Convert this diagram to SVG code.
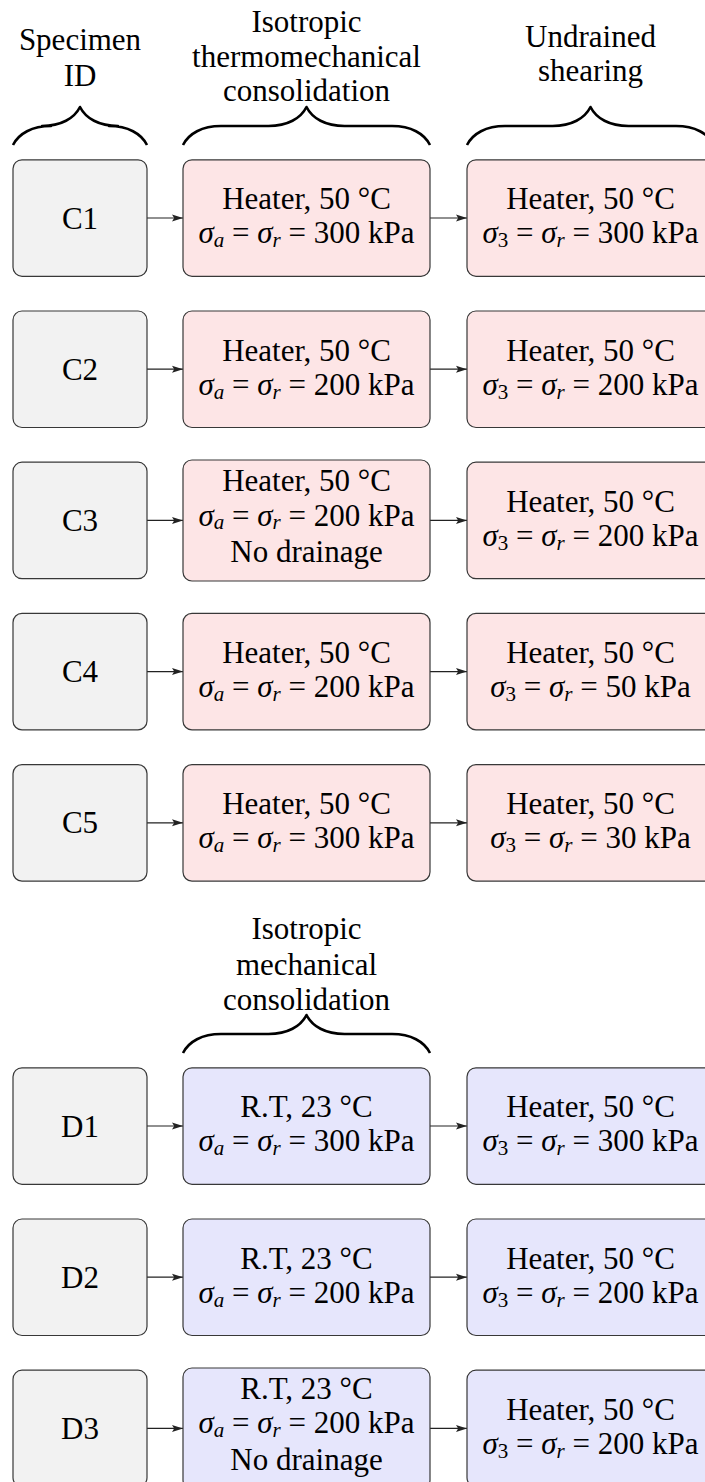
<svg xmlns="http://www.w3.org/2000/svg" width="705" height="1482" viewBox="0 0 705 1482">
<style>
text{font-family:"Liberation Serif","DejaVu Serif",serif;font-size:31px;fill:#000;text-anchor:middle}
.i{font-style:italic}
.sub{font-size:21px}
.box{stroke:#383838;stroke-width:1.2}
.id{fill:#f2f2f2}
.red{fill:#fde5e6}
.blue{fill:#e6e6fc}
.brace{fill:none;stroke:#000;stroke-width:2.6;stroke-linejoin:round;stroke-linecap:butt}
.arr{stroke:#222;stroke-width:1.2;fill:none;marker-end:url(#ah)}
</style>
<defs>
<marker id="ah" markerUnits="userSpaceOnUse" markerWidth="11" markerHeight="9" viewBox="0 0 11 9" refX="11" refY="4.5" orient="auto">
<path d="M0,1 L11,4.5 L0,8 L2.2,4.5 Z" fill="#222"/>
</marker>
</defs>

<g id="headers">
<text x="80" y="50">Specimen</text>
<text x="80" y="86">ID</text>
<text x="306.5" y="32">Isotropic</text>
<text x="306.5" y="67">thermomechanical</text>
<text x="306.5" y="101">consolidation</text>
<text x="590.5" y="47">Undrained</text>
<text x="590.5" y="81">shearing</text>
<text x="306.5" y="939">Isotropic</text>
<text x="306.5" y="974.5">mechanical</text>
<text x="306.5" y="1010">consolidation</text>
</g>

<g id="braces">
<path class="brace" d="M13,145 C18.7,133.6 32,126 51,126 L42,126 C61,126 74.3,118.4 80,107 C85.7,118.4 99,126 118,126 L109,126 C128,126 141.3,133.6 147,145"/>
<path class="brace" d="M183,145 C188.7,133.6 202,126 221,126 L268.5,126 C287.5,126 300.8,118.4 306.5,107 C312.2,118.4 325.5,126 344.5,126 L392,126 C411,126 424.3,133.6 430,145"/>
<path class="brace" d="M467,145 C472.7,133.6 486,126 505,126 L552.5,126 C571.5,126 584.8,118.4 590.5,107 C596.2,118.4 609.5,126 628.5,126 L676,126 C695,126 708.3,133.6 714,145"/>
<path class="brace" d="M183,1053 C188.7,1041.6 202,1034 221,1034 L268.5,1034 C287.5,1034 300.8,1026.4 306.5,1015 C312.2,1026.4 325.5,1034 344.5,1034 L392,1034 C411,1034 424.3,1041.6 430,1053"/>
</g>

<g id="connectors">
<line class="arr" x1="147" y1="218" x2="183" y2="218"/>
<line class="arr" x1="430" y1="218" x2="467" y2="218"/>
<line class="arr" x1="147" y1="369.2" x2="183" y2="369.2"/>
<line class="arr" x1="430" y1="369.2" x2="467" y2="369.2"/>
<line class="arr" x1="147" y1="520.4" x2="183" y2="520.4"/>
<line class="arr" x1="430" y1="520.4" x2="467" y2="520.4"/>
<line class="arr" x1="147" y1="671.6" x2="183" y2="671.6"/>
<line class="arr" x1="430" y1="671.6" x2="467" y2="671.6"/>
<line class="arr" x1="147" y1="822.8" x2="183" y2="822.8"/>
<line class="arr" x1="430" y1="822.8" x2="467" y2="822.8"/>
<line class="arr" x1="147" y1="1126" x2="183" y2="1126"/>
<line class="arr" x1="430" y1="1126" x2="467" y2="1126"/>
<line class="arr" x1="147" y1="1277.2" x2="183" y2="1277.2"/>
<line class="arr" x1="430" y1="1277.2" x2="467" y2="1277.2"/>
<line class="arr" x1="147" y1="1428.4" x2="183" y2="1428.4"/>
<line class="arr" x1="430" y1="1428.4" x2="467" y2="1428.4"/>
</g>

<g id="C1">
<rect class="box id" x="13" y="159.8" width="134" height="116.5" rx="9"/>
<text x="80" y="228.5">C1</text>
</g>
<g id="C1-cons">
<rect class="box red" x="183" y="159.8" width="247" height="116.5" rx="9"/>
<text x="306.5" y="209.3">Heater, 50 °C</text>
<text x="306.5" y="243.3"><tspan class="i">σ</tspan><tspan class="i sub" dy="4">a</tspan><tspan dy="-4"> = </tspan><tspan class="i">σ</tspan><tspan class="i sub" dy="4">r</tspan><tspan dy="-4"> = 300 kPa</tspan></text>
</g>
<g id="C1-shear">
<rect class="box red" x="467" y="159.8" width="247" height="116.5" rx="9"/>
<text x="590.5" y="209.3">Heater, 50 °C</text>
<text x="590.5" y="243.3"><tspan class="i">σ</tspan><tspan class="sub" dy="4">3</tspan><tspan dy="-4"> = </tspan><tspan class="i">σ</tspan><tspan class="i sub" dy="4">r</tspan><tspan dy="-4"> = 300 kPa</tspan></text>
</g>

<g id="C2">
<rect class="box id" x="13" y="311" width="134" height="116.5" rx="9"/>
<text x="80" y="379.7">C2</text>
</g>
<g id="C2-cons">
<rect class="box red" x="183" y="311" width="247" height="116.5" rx="9"/>
<text x="306.5" y="360.5">Heater, 50 °C</text>
<text x="306.5" y="394.5"><tspan class="i">σ</tspan><tspan class="i sub" dy="4">a</tspan><tspan dy="-4"> = </tspan><tspan class="i">σ</tspan><tspan class="i sub" dy="4">r</tspan><tspan dy="-4"> = 200 kPa</tspan></text>
</g>
<g id="C2-shear">
<rect class="box red" x="467" y="311" width="247" height="116.5" rx="9"/>
<text x="590.5" y="360.5">Heater, 50 °C</text>
<text x="590.5" y="394.5"><tspan class="i">σ</tspan><tspan class="sub" dy="4">3</tspan><tspan dy="-4"> = </tspan><tspan class="i">σ</tspan><tspan class="i sub" dy="4">r</tspan><tspan dy="-4"> = 200 kPa</tspan></text>
</g>

<g id="C3">
<rect class="box id" x="13" y="462.2" width="134" height="116.5" rx="9"/>
<text x="80" y="530.9">C3</text>
</g>
<g id="C3-cons">
<rect class="box red" x="183" y="460" width="247" height="121" rx="9"/>
<text x="306.5" y="491.2">Heater, 50 °C</text>
<text x="306.5" y="525.6"><tspan class="i">σ</tspan><tspan class="i sub" dy="3.5">a</tspan><tspan dy="-3.5"> = </tspan><tspan class="i">σ</tspan><tspan class="i sub" dy="3.5">r</tspan><tspan dy="-3.5"> = 200 kPa</tspan></text>
<text x="306.5" y="562">No drainage</text>
</g>
<g id="C3-shear">
<rect class="box red" x="467" y="462.2" width="247" height="116.5" rx="9"/>
<text x="590.5" y="511.7">Heater, 50 °C</text>
<text x="590.5" y="545.7"><tspan class="i">σ</tspan><tspan class="sub" dy="4">3</tspan><tspan dy="-4"> = </tspan><tspan class="i">σ</tspan><tspan class="i sub" dy="4">r</tspan><tspan dy="-4"> = 200 kPa</tspan></text>
</g>

<g id="C4">
<rect class="box id" x="13" y="613.4" width="134" height="116.5" rx="9"/>
<text x="80" y="682.1">C4</text>
</g>
<g id="C4-cons">
<rect class="box red" x="183" y="613.4" width="247" height="116.5" rx="9"/>
<text x="306.5" y="662.9">Heater, 50 °C</text>
<text x="306.5" y="696.9"><tspan class="i">σ</tspan><tspan class="i sub" dy="4">a</tspan><tspan dy="-4"> = </tspan><tspan class="i">σ</tspan><tspan class="i sub" dy="4">r</tspan><tspan dy="-4"> = 200 kPa</tspan></text>
</g>
<g id="C4-shear">
<rect class="box red" x="467" y="613.4" width="247" height="116.5" rx="9"/>
<text x="590.5" y="662.9">Heater, 50 °C</text>
<text x="590.5" y="696.9"><tspan class="i">σ</tspan><tspan class="sub" dy="4">3</tspan><tspan dy="-4"> = </tspan><tspan class="i">σ</tspan><tspan class="i sub" dy="4">r</tspan><tspan dy="-4"> = 50 kPa</tspan></text>
</g>

<g id="C5">
<rect class="box id" x="13" y="764.6" width="134" height="116.5" rx="9"/>
<text x="80" y="833.3">C5</text>
</g>
<g id="C5-cons">
<rect class="box red" x="183" y="764.6" width="247" height="116.5" rx="9"/>
<text x="306.5" y="814.1">Heater, 50 °C</text>
<text x="306.5" y="848.1"><tspan class="i">σ</tspan><tspan class="i sub" dy="4">a</tspan><tspan dy="-4"> = </tspan><tspan class="i">σ</tspan><tspan class="i sub" dy="4">r</tspan><tspan dy="-4"> = 300 kPa</tspan></text>
</g>
<g id="C5-shear">
<rect class="box red" x="467" y="764.6" width="247" height="116.5" rx="9"/>
<text x="590.5" y="814.1">Heater, 50 °C</text>
<text x="590.5" y="848.1"><tspan class="i">σ</tspan><tspan class="sub" dy="4">3</tspan><tspan dy="-4"> = </tspan><tspan class="i">σ</tspan><tspan class="i sub" dy="4">r</tspan><tspan dy="-4"> = 30 kPa</tspan></text>
</g>

<g id="D1">
<rect class="box id" x="13" y="1067.8" width="134" height="116.5" rx="9"/>
<text x="80" y="1136.5">D1</text>
</g>
<g id="D1-cons">
<rect class="box blue" x="183" y="1067.8" width="247" height="116.5" rx="9"/>
<text x="306.5" y="1117.3">R.T, 23 °C</text>
<text x="306.5" y="1151.3"><tspan class="i">σ</tspan><tspan class="i sub" dy="4">a</tspan><tspan dy="-4"> = </tspan><tspan class="i">σ</tspan><tspan class="i sub" dy="4">r</tspan><tspan dy="-4"> = 300 kPa</tspan></text>
</g>
<g id="D1-shear">
<rect class="box blue" x="467" y="1067.8" width="247" height="116.5" rx="9"/>
<text x="590.5" y="1117.3">Heater, 50 °C</text>
<text x="590.5" y="1151.3"><tspan class="i">σ</tspan><tspan class="sub" dy="4">3</tspan><tspan dy="-4"> = </tspan><tspan class="i">σ</tspan><tspan class="i sub" dy="4">r</tspan><tspan dy="-4"> = 300 kPa</tspan></text>
</g>

<g id="D2">
<rect class="box id" x="13" y="1219" width="134" height="116.5" rx="9"/>
<text x="80" y="1287.7">D2</text>
</g>
<g id="D2-cons">
<rect class="box blue" x="183" y="1219" width="247" height="116.5" rx="9"/>
<text x="306.5" y="1268.5">R.T, 23 °C</text>
<text x="306.5" y="1302.5"><tspan class="i">σ</tspan><tspan class="i sub" dy="4">a</tspan><tspan dy="-4"> = </tspan><tspan class="i">σ</tspan><tspan class="i sub" dy="4">r</tspan><tspan dy="-4"> = 200 kPa</tspan></text>
</g>
<g id="D2-shear">
<rect class="box blue" x="467" y="1219" width="247" height="116.5" rx="9"/>
<text x="590.5" y="1268.5">Heater, 50 °C</text>
<text x="590.5" y="1302.5"><tspan class="i">σ</tspan><tspan class="sub" dy="4">3</tspan><tspan dy="-4"> = </tspan><tspan class="i">σ</tspan><tspan class="i sub" dy="4">r</tspan><tspan dy="-4"> = 200 kPa</tspan></text>
</g>

<g id="D3">
<rect class="box id" x="13" y="1370.2" width="134" height="116.5" rx="9"/>
<text x="80" y="1438.9">D3</text>
</g>
<g id="D3-cons">
<rect class="box blue" x="183" y="1368" width="247" height="121" rx="9"/>
<text x="306.5" y="1399">R.T, 23 °C</text>
<text x="306.5" y="1433.4"><tspan class="i">σ</tspan><tspan class="i sub" dy="3.5">a</tspan><tspan dy="-3.5"> = </tspan><tspan class="i">σ</tspan><tspan class="i sub" dy="3.5">r</tspan><tspan dy="-3.5"> = 200 kPa</tspan></text>
<text x="306.5" y="1469.6">No drainage</text>
</g>
<g id="D3-shear">
<rect class="box blue" x="467" y="1370.2" width="247" height="116.5" rx="9"/>
<text x="590.5" y="1419.7">Heater, 50 °C</text>
<text x="590.5" y="1453.7"><tspan class="i">σ</tspan><tspan class="sub" dy="4">3</tspan><tspan dy="-4"> = </tspan><tspan class="i">σ</tspan><tspan class="i sub" dy="4">r</tspan><tspan dy="-4"> = 200 kPa</tspan></text>
</g>
</svg>
